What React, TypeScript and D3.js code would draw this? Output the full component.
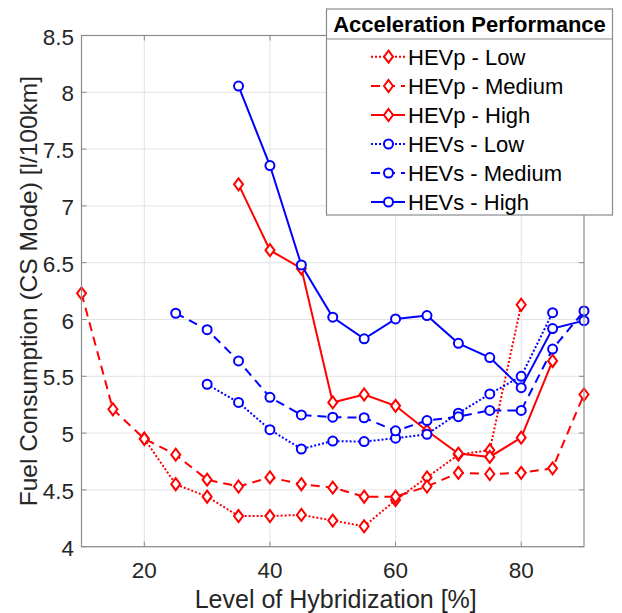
import React from "react";
import * as d3 from "d3";

const hevpLowX = [20, 25, 30, 35, 40, 45, 50, 55, 60, 65, 70, 75, 80];
const hevpLowY = [4.95, 4.55, 4.44, 4.27, 4.27, 4.28, 4.23, 4.18, 4.41, 4.61, 4.81, 4.85, 6.13];
const hevpMedX = [10, 15, 20, 25, 30, 35, 40, 45, 50, 55, 60, 65, 70, 75, 80, 85, 90];
const hevpMedY = [6.23, 5.21, 4.95, 4.81, 4.59, 4.53, 4.61, 4.55, 4.52, 4.44, 4.44, 4.53, 4.65, 4.64, 4.65, 4.69, 5.34];
const hevpHighX = [35, 40, 45, 50, 55, 60, 65, 70, 75, 80, 85];
const hevpHighY = [7.19, 6.61, 6.45, 5.27, 5.34, 5.24, 5.02, 4.82, 4.79, 4.96, 5.635];
const hevsLowX = [30, 35, 40, 45, 50, 55, 60, 65, 70, 75, 80, 85];
const hevsLowY = [5.43, 5.27, 5.03, 4.86, 4.93, 4.925, 4.955, 4.99, 5.175, 5.345, 5.5, 6.06];
const hevsMedX = [25, 30, 35, 40, 45, 50, 55, 60, 65, 70, 75, 80, 85, 90];
const hevsMedY = [6.055, 5.91, 5.635, 5.315, 5.16, 5.14, 5.135, 5.02, 5.11, 5.145, 5.2, 5.2, 5.74, 6.075];
const hevsHighX = [35, 40, 45, 50, 55, 60, 65, 70, 75, 80, 85, 90];
const hevsHighY = [8.055, 7.355, 6.48, 6.02, 5.83, 6.005, 6.035, 5.79, 5.665, 5.4, 5.92, 5.99];

const xTicks = [20, 40, 60, 80];
const yTicks = [4, 4.5, 5, 5.5, 6, 6.5, 7, 7.5, 8, 8.5];

const seriesNames = ["HEVp - Low", "HEVp - Medium", "HEVp - High", "HEVs - Low", "HEVs - Medium", "HEVs - High"];
const seriesColors = ["#ff0000", "#ff0000", "#ff0000", "#0000ff", "#0000ff", "#0000ff"];
const seriesDash = ["2,2", "9,6", "", "2,2", "9,6", ""];
const seriesMarker = ["diamond", "diamond", "diamond", "circle", "circle", "circle"];
const seriesX = [hevpLowX, hevpMedX, hevpHighX, hevsLowX, hevsMedX, hevsHighX];
const seriesY = [hevpLowY, hevpMedY, hevpHighY, hevsLowY, hevsMedY, hevsHighY];

const FONT = "'Liberation Sans', Arial, sans-serif";

function Marker({ type, cx, cy, color }: { type: string; cx: number; cy: number; color: string }) {
  if (type === "diamond") {
    const w = 4.5, h = 6;
    return (
      <path
        d={`M${cx},${cy - h}L${cx + w},${cy}L${cx},${cy + h}L${cx - w},${cy}Z`}
        fill="white"
        stroke={color}
        strokeWidth={2}
      />
    );
  }
  return <circle cx={cx} cy={cy} r={4.5} fill="white" stroke={color} strokeWidth={2} />;
}

export default function App() {
  const left = 81.5, right = 584, top = 35.5, bottom = 546.7;
  const x = d3.scaleLinear().domain([10, 90]).range([left, right]);
  const y = d3.scaleLinear().domain([4, 8.5]).range([bottom, top]);
  const line = d3.line<[number, number]>().x((d) => x(d[0])).y((d) => y(d[1]));
  const gridColor = "#e3e3e3";
  const axisColor = "#8a8a8a";
  const textColor = "#262626";

  const legLeft = 326.5, legTop = 9, legRight = 612.5, legBottom = 215;
  const legRowY = [56.7, 86, 115, 144, 173, 202];

  return (
    <svg width={622} height={613} style={{ position: "absolute", left: 0, top: 0, background: "white" }}>
      <rect x={0} y={0} width={622} height={613} fill="white" />
      {/* grid */}
      {xTicks.map((t) => (
        <line key={"gx" + t} x1={x(t)} x2={x(t)} y1={top} y2={bottom} stroke={gridColor} strokeWidth={1} />
      ))}
      {yTicks.map((t) => (
        <line key={"gy" + t} x1={left} x2={right} y1={y(t)} y2={y(t)} stroke={gridColor} strokeWidth={1} />
      ))}
      {/* ticks */}
      {xTicks.map((t) => (
        <g key={"tx" + t}>
          <line x1={x(t)} x2={x(t)} y1={bottom} y2={bottom - 5} stroke={axisColor} />
          <line x1={x(t)} x2={x(t)} y1={top} y2={top + 5} stroke={axisColor} />
          <text x={x(t)} y={578} textAnchor="middle" fontFamily={FONT} fontSize={22.5} fill={textColor}>
            {t}
          </text>
        </g>
      ))}
      {yTicks.map((t) => (
        <g key={"ty" + t}>
          <line x1={left} x2={left + 5} y1={y(t)} y2={y(t)} stroke={axisColor} />
          <line x1={right} x2={right - 5} y1={y(t)} y2={y(t)} stroke={axisColor} />
          <text x={74} y={y(t) + 9} textAnchor="end" fontFamily={FONT} fontSize={22.5} fill={textColor}>
            {t}
          </text>
        </g>
      ))}
      {/* series */}
      {seriesNames.map((name, i) => {
        const pts = seriesX[i].map((v, j) => [v, seriesY[i][j]] as [number, number]);
        return (
          <g key={name}>
            <path
              d={line(pts) || ""}
              fill="none"
              stroke={seriesColors[i]}
              strokeWidth={2}
              strokeDasharray={seriesDash[i] || undefined}
            />
            {pts.map((p, j) => (
              <Marker key={j} type={seriesMarker[i]} cx={x(p[0])} cy={y(p[1])} color={seriesColors[i]} />
            ))}
          </g>
        );
      })}
      {/* axes box */}
      <rect x={left} y={top} width={right - left} height={bottom - top} fill="none" stroke={axisColor} strokeWidth={1.2} />
      {/* axis labels */}
      <text x={x(50) + 3} y={608} textAnchor="middle" fontFamily={FONT} fontSize={25} fill={textColor}>
        Level of Hybridization [%]
      </text>
      <text
        transform={`translate(37,${(top + bottom) / 2}) rotate(-90)`}
        textAnchor="middle"
        fontFamily={FONT}
        fontSize={24.5}
        fill={textColor}
      >
        Fuel Consumption (CS Mode) [l/100km]
      </text>
      {/* legend */}
      <rect x={legLeft} y={legTop} width={legRight - legLeft} height={legBottom - legTop} fill="white" stroke={axisColor} strokeWidth={1.2} />
      <line x1={legLeft} x2={legRight} y1={39} y2={39} stroke={axisColor} strokeWidth={1.2} />
      <text x={(legLeft + legRight) / 2} y={32} textAnchor="middle" fontFamily={FONT} fontSize={22} fontWeight="bold" fill="#000">
        Acceleration Performance
      </text>
      {seriesNames.map((name, i) => (
        <g key={"leg" + name}>
          <line
            x1={371}
            x2={405}
            y1={legRowY[i]}
            y2={legRowY[i]}
            stroke={seriesColors[i]}
            strokeWidth={2}
            strokeDasharray={seriesDash[i] || undefined}
          />
          <Marker type={seriesMarker[i]} cx={388.5} cy={legRowY[i]} color={seriesColors[i]} />
          <text x={408} y={legRowY[i] + 8} fontFamily={FONT} fontSize={22} fill="#000">
            {name}
          </text>
        </g>
      ))}
    </svg>
  );
}
